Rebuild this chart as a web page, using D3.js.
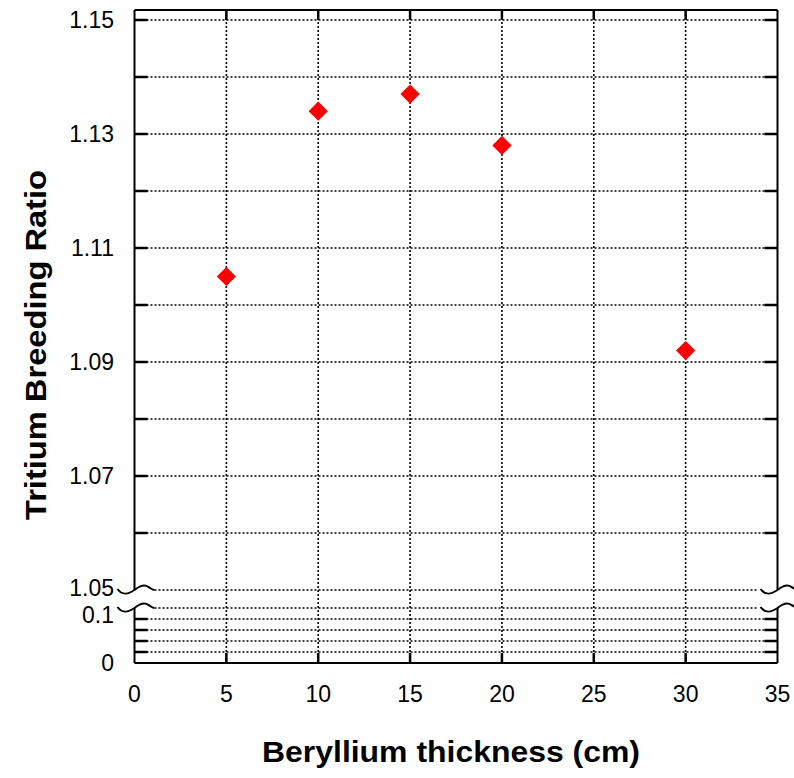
<!DOCTYPE html>
<html><head><meta charset="utf-8">
<script src="https://cdn.jsdelivr.net/npm/d3@7"></script>
<style>body{margin:0;background:#fff}svg{display:block}text{font-family:"Liberation Sans",Arial,sans-serif}</style>
</head><body><svg id="c" width="794" height="778"></svg>
<script>
const thickness = [5, 10, 15, 20, 30];
const tbr = [1.105, 1.134, 1.137, 1.128, 1.092];
const xTicks = [0, 5, 10, 15, 20, 25, 30, 35];
const yTopTicks = [1.05, 1.06, 1.07, 1.08, 1.09, 1.10, 1.11, 1.12, 1.13, 1.14, 1.15];
const yTopLabels = [1.05, 1.07, 1.09, 1.11, 1.13, 1.15];
const yBotTicks = [0, 0.02, 0.04, 0.06, 0.08, 0.1];
const yBotLabels = [0, 0.1];

const svg = d3.select("#c");
const x = d3.scaleLinear().domain([0, 35]).range([134.5, 777.5]);
const yTop = d3.scaleLinear().domain([1.05, 1.15]).range([590, 20]);
const yBot = d3.scaleLinear().domain([0, 0.1]).range([663, 608]);
const L = x(0), R = x(35), T = yTop(1.15) - 10, B = yBot(0);

// vertical grid
svg.append("g").selectAll("line").data(xTicks.filter(d => d > 0 && d < 35)).join("line")
  .attr("x1", d => x(d)).attr("x2", d => x(d)).attr("y1", T).attr("y2", B)
  .attr("stroke", "#000").attr("stroke-width", 1.6).attr("stroke-dasharray", "2,2");
// horizontal grid
svg.append("g").selectAll("line").data(yTopTicks).join("line")
  .attr("x1", d => d === 1.05 ? L + 20 : L).attr("x2", d => d === 1.05 ? R - 20 : R)
  .attr("y1", d => yTop(d)).attr("y2", d => yTop(d))
  .attr("stroke", "#000").attr("stroke-width", 1.6).attr("stroke-dasharray", "2,2");
svg.append("g").selectAll("line").data(yBotTicks.filter(d => d > 0)).join("line")
  .attr("x1", d => d === 0.1 ? L + 20 : L).attr("x2", d => d === 0.1 ? R - 20 : R)
  .attr("y1", d => yBot(d)).attr("y2", d => yBot(d))
  .attr("stroke", "#000").attr("stroke-width", 1.6).attr("stroke-dasharray", "2,2");

// frame
const fr = svg.append("g").attr("stroke", "#000").attr("stroke-width", 2).attr("fill", "none");
fr.append("line").attr("x1", L).attr("x2", R).attr("y1", T).attr("y2", T);
fr.append("line").attr("x1", L).attr("x2", R).attr("y1", B).attr("y2", B);
fr.append("line").attr("x1", L).attr("x2", L).attr("y1", T).attr("y2", yTop(1.05));
fr.append("line").attr("x1", L).attr("x2", L).attr("y1", yBot(0.1)).attr("y2", B);
fr.append("line").attr("x1", R).attr("x2", R).attr("y1", T).attr("y2", yTop(1.05));
fr.append("line").attr("x1", R).attr("x2", R).attr("y1", yBot(0.1)).attr("y2", B);

// ticks
const tk = svg.append("g").attr("stroke", "#000").attr("stroke-width", 2.5);
xTicks.filter(d => d > 0 && d < 35).forEach(d => {
  tk.append("line").attr("x1", x(d)).attr("x2", x(d)).attr("y1", T).attr("y2", T + 10);
  tk.append("line").attr("x1", x(d)).attr("x2", x(d)).attr("y1", B).attr("y2", B - 10);
});
yTopTicks.filter(d => d > 1.05).forEach(d => {
  tk.append("line").attr("x1", L).attr("x2", L + 13).attr("y1", yTop(d)).attr("y2", yTop(d));
  tk.append("line").attr("x1", R).attr("x2", R - 13).attr("y1", yTop(d)).attr("y2", yTop(d));
});
yBotTicks.filter(d => d > 0 && d < 0.1).forEach(d => {
  tk.append("line").attr("x1", L).attr("x2", L + 13).attr("y1", yBot(d)).attr("y2", yBot(d));
  tk.append("line").attr("x1", R).attr("x2", R - 13).attr("y1", yBot(d)).attr("y2", yBot(d));
});

// break waves
function wave(cx, cy) {
  return `M${cx-17},${cy-1} C${cx-12},${cy+6} ${cx-6},${cy+4} ${cx},${cy} C${cx+5},${cy-4} ${cx+10},${cy-6} ${cx+14},${cy-3} C${cx+16},${cy-2} ${cx+18},${cy} ${cx+20},${cy}`;
}
const wv = svg.append("g").attr("stroke", "#000").attr("stroke-width", 2).attr("fill", "none");
[[L, yTop(1.05)], [L, yBot(0.1)], [R, yTop(1.05)], [R, yBot(0.1)]].forEach(([cx, cy]) => {
  wv.append("path").attr("d", wave(cx, cy));
});

// tick labels
const fs = 23;
svg.append("g").selectAll("text").data(yTopLabels).join("text")
  .attr("x", 114).attr("y", d => yTop(d)).attr("dy", d => d === 1.05 ? "0.28em" : "0.36em")
  .attr("text-anchor", "end").attr("font-size", fs).text(d => d.toFixed(2));
svg.append("g").selectAll("text").data(yBotLabels).join("text")
  .attr("x", 114).attr("y", d => yBot(d))
  .attr("dy", d => d === 0.1 ? "0.66em" : "0.36em")
  .attr("text-anchor", "end").attr("font-size", fs).text(d => d === 0 ? "0" : "0.1");
svg.append("g").selectAll("text").data(xTicks).join("text")
  .attr("x", d => x(d)).attr("y", 702).attr("text-anchor", "middle")
  .attr("font-size", fs).text(d => d);

// axis titles
svg.append("text").attr("x", 262).attr("y", 762)
  .attr("font-size", 29).attr("font-weight", "bold")
  .attr("textLength", 378).attr("lengthAdjust", "spacingAndGlyphs").text("Beryllium thickness (cm)");
svg.append("text").attr("transform", "translate(46,520) rotate(-90)")
  .attr("font-size", 30).attr("font-weight", "bold")
  .attr("textLength", 350).attr("lengthAdjust", "spacingAndGlyphs").text("Tritium Breeding Ratio");

// markers
svg.append("g").selectAll("path").data(thickness.map((t, i) => [t, tbr[i]])).join("path")
  .attr("d", d3.symbol().type(d3.symbolSquare).size(185))
  .attr("transform", d => `translate(${x(d[0])},${yTop(d[1])}) rotate(45)`)
  .attr("fill", "#ff0000");
</script></body></html>
